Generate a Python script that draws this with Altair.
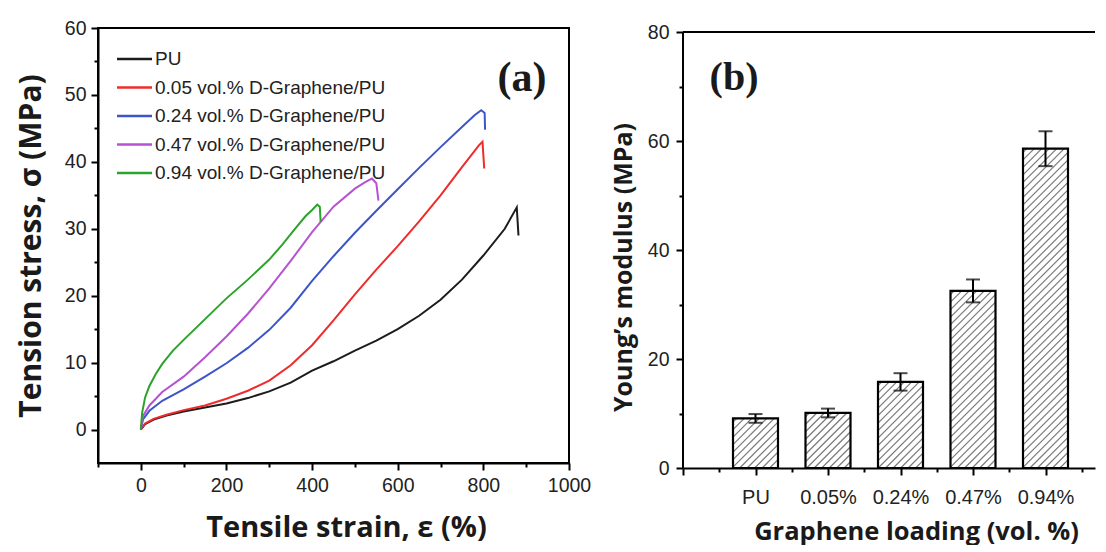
import json
import altair as alt
import pandas as pd

# ---------------- Panel (a): stress-strain curves ----------------
SERIES = ["PU", "0.05 vol.% D-Graphene/PU", "0.24 vol.% D-Graphene/PU",
          "0.47 vol.% D-Graphene/PU", "0.94 vol.% D-Graphene/PU"]
COLORS = ["#1c1c1c", "#ef2b2b", "#3c55c9", "#b553d0", "#2ca32c"]

PU_X = [0, 10, 30, 60, 100, 150, 200, 250, 300, 350, 400, 450, 500, 550, 600, 650, 700, 750, 800, 850, 878, 882]
PU_Y = [0, 0.8, 1.5, 2.1, 2.7, 3.3, 3.9, 4.7, 5.7, 7.0, 8.8, 10.2, 11.8, 13.3, 15.0, 17.0, 19.4, 22.4, 26.0, 30.0, 33.2, 29.0]

R05_X = [0, 10, 30, 60, 100, 150, 200, 250, 300, 350, 400, 450, 500, 550, 600, 650, 700, 750, 790, 798, 802]
R05_Y = [0, 0.9, 1.6, 2.2, 2.9, 3.6, 4.6, 5.8, 7.3, 9.6, 12.6, 16.3, 20.2, 23.9, 27.4, 31.1, 35.0, 39.2, 42.5, 43.0, 39.0]

B24_X = [0, 5, 20, 50, 100, 150, 200, 250, 300, 350, 400, 450, 500, 550, 600, 650, 700, 750, 780, 795, 803, 804]
B24_Y = [0, 1.5, 2.8, 4.3, 6.0, 7.9, 9.9, 12.2, 14.9, 18.2, 22.2, 25.9, 29.4, 32.7, 35.9, 39.1, 42.2, 45.2, 47.0, 47.7, 47.3, 44.8]

P47_X = [0, 5, 20, 50, 100, 150, 200, 250, 300, 350, 400, 450, 500, 525, 540, 550, 555]
P47_Y = [0, 2.0, 3.6, 5.6, 7.9, 10.8, 13.9, 17.3, 21.1, 25.2, 29.5, 33.3, 36.0, 37.0, 37.5, 36.8, 34.2]

G94_X = [0, 3, 10, 20, 35, 50, 75, 100, 150, 200, 250, 300, 330, 360, 385, 400, 412, 418, 420]
G94_Y = [0, 2.5, 4.8, 6.5, 8.3, 9.8, 11.8, 13.4, 16.5, 19.6, 22.4, 25.4, 27.6, 30.0, 31.9, 32.8, 33.6, 33.3, 31.0]

X_TICKS_A = [-100, 0, 100, 200, 300, 400, 500, 600, 700, 800, 900, 1000]
Y_TICKS_A = [0, 5, 10, 15, 20, 25, 30, 35, 40, 45, 50, 55, 60]

# ---------------- Panel (b): Young's modulus bars ----------------
CATS = ["PU", "0.05%", "0.24%", "0.47%", "0.94%"]
MODULUS = [9.1, 10.1, 15.8, 32.5, 58.6]
MOD_ERR = [0.8, 0.8, 1.6, 2.1, 3.2]
Y_TICKS_B = [0, 10, 20, 30, 40, 50, 60, 70, 80]
X_TICKS_B = [0, 0.5, 1, 1.5, 2, 2.5, 3, 3.5, 4, 4.5, 5, 5.5]

FONT = "Liberation Sans"
TFONT = "Open Sans"
INK = "#1a1a1a"

# ---------- build panel (a) ----------
curves = [(PU_X, PU_Y), (R05_X, R05_Y), (B24_X, B24_Y), (P47_X, P47_Y), (G94_X, G94_Y)]
rows = []
for name, (xs, ys) in zip(SERIES, curves):
    for j, (xv, yv) in enumerate(zip(xs, ys)):
        rows.append({"series": name, "strain": xv, "stress": yv, "order": j})
df_a = pd.DataFrame(rows)

WA, HA = 471, 435
xs_a = alt.Scale(domain=[-100, 1000], nice=False, zero=False)
ys_a = alt.Scale(domain=[-5, 60], nice=False, zero=False)
col_sc = alt.Scale(domain=SERIES, range=COLORS)

xax_a = alt.Axis(
    title="Tensile strain, ε (%)", values=X_TICKS_A,
    labelExpr="datum.value % 200 === 0 ? format(datum.value, 'd') : ''",
    tickSize={"condition": {"test": "datum.value % 200 === 0", "value": 7}, "value": 4},
    labelFontSize=19.5, labelPadding=6, labelFlush=False, labelOverlap=False,
    titleFont=TFONT, titleFontSize=29, titleFontWeight="bold",
    titleX=248, titleY=64, titleBaseline="middle", titleAlign="center",
)
yax_a = alt.Axis(
    title="Tension stress, σ (MPa)", values=Y_TICKS_A,
    labelExpr="datum.value % 10 === 0 ? format(datum.value, 'd') : ''",
    tickSize={"condition": {"test": "datum.value % 10 === 0", "value": 7}, "value": 4},
    labelFontSize=19.5, labelPadding=5, labelFlush=False, labelOverlap=False,
    titleFont=TFONT, titleFontSize=30, titleFontWeight="bold",
    titleX=-67, titleY=HA / 2, titleAngle=270, titleBaseline="middle", titleAlign="center",
)

lines = alt.Chart(df_a).mark_line(strokeWidth=2, clip=True).encode(
    x=alt.X("strain:Q", scale=xs_a, axis=xax_a),
    y=alt.Y("stress:Q", scale=ys_a, axis=yax_a),
    color=alt.Color("series:N", scale=col_sc, legend=None),
    order="order:Q",
)

leg_df = pd.DataFrame({"series": SERIES, "row": list(range(len(SERIES)))})
leg_y = alt.Y("row:Q", scale=alt.Scale(domain=[0, 4], range=[31, 145]), axis=None)
leg_lines = alt.Chart(leg_df).mark_rule(strokeWidth=2.5).encode(
    x=alt.value(19), x2=alt.value(54), y=leg_y,
    color=alt.Color("series:N", scale=col_sc, legend=None),
)
leg_text = alt.Chart(leg_df).mark_text(
    align="left", baseline="middle", font=FONT, fontSize=19, color="#222"
).encode(x=alt.value(57), y=leg_y, text="series:N")

lab_a = alt.Chart(pd.DataFrame({"t": ["(a)"]})).mark_text(
    font="Liberation Serif", fontWeight="bold", fontSize=42, color=INK,
    align="center", baseline="middle"
).encode(x=alt.value(424), y=alt.value(50), text="t:N")

left = alt.layer(lines, leg_lines, leg_text, lab_a).resolve_scale(y="independent").properties(
    width=WA, height=HA, view=alt.ViewBackground(stroke="black", strokeWidth=2)
)

# ---------- build panel (b) ----------
WB, HB = 412, 440
KX = 72.5                      # px per category step
XMAX_B = WB / KX
YMAX_B = 80.75
KY = HB / YMAX_B
BAR_W = 45 / KX

pos = [i + 1 for i in range(len(CATS))]
df_b = pd.DataFrame({
    "pos": pos, "val": MODULUS, "base": [0] * len(CATS),
    "x0": [p - BAR_W / 2 for p in pos], "x1": [p + BAR_W / 2 for p in pos],
    "lo": [v - e for v, e in zip(MODULUS, MOD_ERR)],
    "hi": [v + e for v, e in zip(MODULUS, MOD_ERR)],
})

# diagonal hatching derived from each bar's rectangle
STEP = 7.5
hatch = []
for p, v in zip(pos, MODULUS):
    W = BAR_W * KX
    H = v * KY
    left_x = p - BAR_W / 2
    k = -H + STEP / 2
    while k < W:
        u0, u1 = max(0.0, k), min(W, H + k)
        if u1 > u0:
            hatch.append({"hx": left_x + u0 / KX, "hx2": left_x + u1 / KX,
                          "hy": (u0 - k) / KY, "hy2": (u1 - k) / KY})
        k += STEP
df_h = pd.DataFrame(hatch)

frame_df = pd.DataFrame({"fx": [0, 0], "fx2": [0, XMAX_B], "fy": [0, 80], "fy2": [80, 80]})

xs_b = alt.Scale(domain=[0, XMAX_B], nice=False, zero=False)
ys_b = alt.Scale(domain=[0, YMAX_B], nice=False, zero=False)
cats_js = json.dumps(CATS)
xax_b = alt.Axis(
    title="Graphene loading (vol. %)", values=X_TICKS_B,
    labelExpr=f"(datum.value % 1 === 0 && datum.value >= 1) ? {cats_js}[datum.value - 1] : ''",
    tickSize={"condition": {"test": "datum.value % 1 === 0", "value": 7}, "value": 4},
    labelFontSize=20, labelPadding=12, labelFlush=False, labelOverlap=False,
    titleFont=TFONT, titleFontSize=25.5, titleFontWeight="bold",
    titleX=233, titleY=63, titleBaseline="middle", titleAlign="center",
)
yax_b = alt.Axis(
    title="Young’s modulus (MPa)", values=Y_TICKS_B, domain=False,
    labelExpr="datum.value % 20 === 0 ? datum.label : ''",
    tickSize={"condition": {"test": "datum.value % 20 === 0", "value": 7}, "value": 4},
    labelFontSize=19.5, labelPadding=7, labelFlush=False, labelOverlap=False,
    titleFont=TFONT, titleFontSize=25, titleFontWeight="bold",
    titleX=-60, titleY=239, titleAngle=270, titleBaseline="middle", titleAlign="center",
)

bars_fill = alt.Chart(df_b).mark_rect(fill="white").encode(
    x=alt.X("x0:Q", scale=xs_b, axis=xax_b), x2="x1:Q",
    y=alt.Y("val:Q", scale=ys_b, axis=yax_b), y2="base:Q",
)
hatch_lines = alt.Chart(df_h).mark_rule(stroke="#7a7a7a", strokeWidth=1.2).encode(
    x=alt.X("hx:Q", scale=xs_b, axis=xax_b), x2="hx2:Q",
    y=alt.Y("hy:Q", scale=ys_b, axis=yax_b), y2="hy2:Q",
)
bars_edge = alt.Chart(df_b).mark_rect(fillOpacity=0, stroke="black", strokeWidth=2.2).encode(
    x=alt.X("x0:Q", scale=xs_b, axis=xax_b), x2="x1:Q",
    y=alt.Y("val:Q", scale=ys_b, axis=yax_b), y2="base:Q",
)
err_rule = alt.Chart(df_b).mark_rule(stroke="black", strokeWidth=2).encode(
    x=alt.X("pos:Q", scale=xs_b, axis=xax_b),
    y=alt.Y("lo:Q", scale=ys_b, axis=yax_b), y2="hi:Q",
)
cap_hi = alt.Chart(df_b).mark_tick(orient="horizontal", size=14, thickness=2, color="black").encode(
    x=alt.X("pos:Q", scale=xs_b, axis=xax_b),
    y=alt.Y("hi:Q", scale=ys_b, axis=yax_b),
)
cap_lo = alt.Chart(df_b).mark_tick(orient="horizontal", size=14, thickness=2, color="black").encode(
    x=alt.X("pos:Q", scale=xs_b, axis=xax_b),
    y=alt.Y("lo:Q", scale=ys_b, axis=yax_b),
)
frame_b = alt.Chart(frame_df).mark_rule(stroke="black", strokeWidth=2).encode(
    x=alt.X("fx:Q", scale=xs_b, axis=xax_b), x2="fx2:Q",
    y=alt.Y("fy:Q", scale=ys_b, axis=yax_b), y2="fy2:Q",
)
lab_b = alt.Chart(pd.DataFrame({"t": ["(b)"]})).mark_text(
    font="Liberation Serif", fontWeight="bold", fontSize=40, color=INK,
    align="center", baseline="middle"
).encode(x=alt.value(51), y=alt.value(50), text="t:N")

right = alt.layer(bars_fill, hatch_lines, bars_edge, err_rule, cap_hi, cap_lo, frame_b, lab_b).properties(
    width=WB, height=HB, view=alt.ViewBackground(stroke="transparent")
)

chart = alt.HConcatChart(hconcat=[left, right], spacing=114, bounds="flush").properties(
    padding={"left": 6, "top": 9, "right": 0, "bottom": 0},
    background="white",
).configure_axis(
    grid=False, labelFont=FONT, labelColor="#222", titleColor=INK,
    domainColor="black", domainWidth=2, tickColor="black", tickWidth=2,
)

chart.save("out.html", embed_options={"renderer": "svg", "actions": False})
